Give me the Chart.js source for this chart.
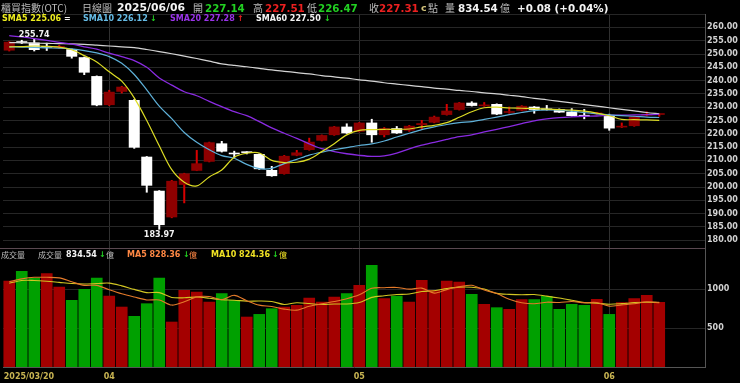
<!DOCTYPE html>
<html><head><meta charset="utf-8">
<script src="https://cdn.jsdelivr.net/npm/chart.js@4/dist/chart.umd.min.js"></script>
<style>
html,body{margin:0;padding:0;background:#000;}
#wrap{position:relative;width:740px;height:383px;overflow:hidden;background:#000;}
#c1{position:absolute;left:0;top:0;}
#c2{position:absolute;left:0;top:249px;}
.t{position:absolute;white-space:nowrap;line-height:1;transform:translateY(-50%);}
.n{font-family:"DejaVu Sans";font-weight:bold;}
.cj{font-family:"Noto Sans CJK TC";}
</style></head>
<body>
<div id="wrap">
<canvas id="c1" width="740" height="249"></canvas>
<canvas id="c2" width="740" height="134"></canvas>
</div>
<script>
// ---------------- data ----------------
const lastDate = '2025/06/06';
const monthTickIndex = [0, 8, 28, 48];
const monthTickLabels = ['2025/03/20', '04', '05', '06'];
const priceTicks = [180,185,190,195,200,205,210,215,220,225,230,235,240,245,250,255,260,265];
const volTicks = [500, 1000];

const openP = [251.3,254.5,254.3,252.6,252.3,251.8,248.8,241.7,230.8,235.8,
 232.7,211.4,198.6,188.6,200.8,206.1,209.5,216.4,212.6,213.0,
 212.4,206.4,204.9,211.8,213.9,217.4,219.5,222.7,220.8,224.2,
 219.5,222.1,221.2,223.3,224.2,227.1,229.0,231.7,230.4,231.2,
 227.9,228.7,230.2,229.3,229.3,228.3,227.1,227.4,227.1,222.4,
 222.9,226.9,227.14];
const highP = [254.8,255.3,255.74,254.2,253.4,252.0,249.0,241.9,236.5,238.0,
 233.0,211.6,198.8,202.6,205.3,213.9,217.0,217.3,213.6,213.4,
 212.6,207.9,212.0,213.9,218.5,219.7,222.9,223.9,224.4,225.6,
 222.5,222.9,223.3,225.2,226.8,231.2,231.9,232.2,231.9,231.4,
 230.2,230.7,230.4,230.8,229.5,229.6,229.3,228.2,227.5,224.2,
 226.6,228.4,227.51];
const lowP = [251.0,253.8,251.0,251.2,252.0,248.3,242.1,230.4,230.5,235.2,
 214.4,197.9,183.97,188.3,193.9,206.0,209.3,213.0,211.0,212.3,
 206.5,203.9,204.7,211.6,213.7,217.2,219.3,220.0,220.6,216.7,
 218.7,220.0,220.8,221.7,224.0,226.9,228.8,230.3,230.2,227.1,
 227.6,228.5,227.6,228.8,227.9,226.5,225.5,227.2,221.2,222.2,
 222.7,226.6,226.47];
const closeP = [254.6,254.2,251.5,252.4,253.0,249.0,243.0,230.7,235.8,237.7,
 214.8,200.5,185.7,202.3,205.1,208.9,216.8,213.3,212.3,212.8,
 206.7,204.1,211.7,213.0,217.0,219.5,222.7,220.2,224.2,219.5,
 222.1,220.2,223.0,224.0,226.4,228.7,231.7,230.5,231.0,227.3,
 228.3,230.5,229.0,228.9,228.0,226.7,226.5,227.8,222.0,222.6,
 226.4,227.23,227.31];
const volume = [1106,1231,1145,1201,1030,859,1000,1145,914,773,
 654,816,1145,581,987,966,837,945,859,645,
 679,752,773,795,889,837,902,945,1051,1308,
 880,914,837,1115,987,1106,1094,936,808,765,
 744,868,868,910,744,808,795,872,679,829,
 880,923,834.54];

const sma5 = [252.7,252.8,253.0,252.9,252.6,251.6,249.4,247.0,243.3,239.8,
 233.5,225.0,215.5,206.5,201.8,200.4,203.8,206.4,211.2,212.7,
 212.8,210.0,209.2,209.3,210.5,213.3,216.3,219.6,221.3,221.6,
 221.7,221.7,221.8,222.6,223.2,224.2,226.2,228.3,229.8,230.0,
 229.7,229.6,229.5,229.3,229.1,228.9,228.5,227.8,226.8,225.4,
 225.3,225.2,225.06];
const sma10 = [252.7,252.6,252.5,252.3,252.2,251.9,251.3,250.4,249.0,246.5,
 242.3,236.5,230.4,225.7,220.5,216.8,214.0,211.8,210.8,208.5,
 206.9,207.0,208.8,210.4,212.0,213.1,214.0,214.8,215.6,216.2,
 217.3,218.8,220.2,221.6,222.6,223.5,224.2,224.6,225.4,226.3,
 227.2,228.0,228.7,229.0,228.9,228.5,228.0,227.5,227.1,226.8,
 226.6,226.3,226.12];
const sma20 = [256.9,256.4,255.8,255.1,254.4,253.7,252.7,251.8,250.3,249.0,
 247.5,245.0,241.0,238.3,235.8,234.3,232.2,230.2,228.3,226.8,
 224.6,222.2,220.2,218.3,216.2,214.4,213.3,212.5,211.9,211.5,
 211.7,212.7,214.3,215.7,216.8,217.9,218.9,219.6,220.7,221.7,
 222.7,223.8,224.9,225.6,226.1,226.4,226.6,226.7,226.9,227.0,
 227.1,227.2,227.28];
const sma60 = [254.3,254.2,254.1,254.0,253.9,253.8,253.6,253.3,253.0,252.7,
 252.4,251.7,250.9,250.1,249.2,248.3,247.3,246.3,245.7,245.2,
 244.6,244.0,243.5,243.0,242.5,241.9,241.4,240.9,240.3,239.8,
 239.2,238.7,238.2,237.7,237.2,236.8,236.3,235.9,235.4,235.0,
 234.5,234.0,233.3,232.8,232.2,231.6,231.0,230.4,229.8,229.2,
 228.6,228.0,227.5];
const volMa5 = [1094,1130,1150,1150,1143,1093,1047,1047,990,938,
 897,860,860,794,837,899,903,863,919,850,
 793,776,742,729,778,809,839,874,925,1009,
 1017,1020,998,1011,947,992,1028,1048,986,942,
 869,824,811,831,827,840,825,826,780,797,
 811,837,828.36];
const volMa10 = [1073,1110,1110,1100,1085,1070,1065,1070,1075,1040,
 995,954,954,892,887,898,882,862,856,844,
 846,840,802,824,814,801,808,808,827,893,
 913,929,936,968,978,1005,1024,1023,999,944,
 931,926,929,909,884,855,825,818,805,812,
 825,831,824.36];
const smaMarks = ['=', '↓', '↑', '↓'];
const volMarks = ['↓', '↓', '↓'];

// ---------------- helpers ----------------
const N = closeP.length;
const idx = [...Array(N).keys()];
const isUp = i => closeP[i] >= openP[i];
const volUp = i => i === 0 ? closeP[0] >= openP[0] : closeP[i] >= closeP[i - 1];
const X_MIN = -0.5, X_MAX = 55.66;
const NUMFONT = 'DejaVu Sans';

function xAxis(h) {
  return {
    type: 'linear', min: X_MIN, max: X_MAX, offset: false,
    grid: { display: true, offset: false, color: '#303030', drawTicks: false },
    border: { display: h > 0, color: '#555555' },
    ticks: { display: false },
    afterBuildTicks: s => { s.ticks = monthTickIndex.slice(1).map(v => ({ value: v })); },
    afterFit: s => { s.height = h; s.paddingLeft = 0; s.paddingRight = 0; }
  };
}
function yAxis(min, max, ticks, cb) {
  return {
    type: 'linear', position: 'right', min: min, max: max,
    afterBuildTicks: s => { s.ticks = ticks.map(v => ({ value: v })); },
    ticks: { color: '#d2d2d2', font: { family: NUMFONT, weight: 'bold', size: 8 }, padding: 2, autoSkip: false, callback: cb },
    grid: { color: '#262626', drawTicks: false },
    border: { display: true, color: '#555555' },
    afterFit: s => { s.width = 35; s.paddingTop = 0; s.paddingBottom = 0; }
  };
}
const lineDs = (data, color, w) => ({
  type: 'line', data: idx.map(i => ({ x: i, y: data[i] })), borderColor: color,
  borderWidth: w, pointRadius: 0, tension: 0.3, order: 0, fill: false
});

// ---------------- price chart ----------------
const priceDeco = {
  id: 'priceDeco',
  afterDatasetsDraw(chart) {
    const { ctx, scales: { x, y } } = chart;
    let hi = 0, lo = 0;
    idx.forEach(i => { if (highP[i] > highP[hi]) hi = i; if (lowP[i] < lowP[lo]) lo = i; });
    ctx.save();
    ctx.font = 'bold 8px "' + NUMFONT + '"';
    ctx.fillStyle = '#f2f2f2';
    ctx.textAlign = 'center';
    ctx.textBaseline = 'alphabetic';
    ctx.fillText(highP[hi].toFixed(2), x.getPixelForValue(hi), y.getPixelForValue(highP[hi]) - 1.8);
    ctx.fillText(lowP[lo].toFixed(2), x.getPixelForValue(lo), y.getPixelForValue(lowP[lo]) + 7.4);
    // panel separator
    ctx.strokeStyle = '#5a4850';
    ctx.lineWidth = 1;
    ctx.beginPath();
    ctx.moveTo(0, chart.chartArea.bottom + 0.5);
    ctx.lineTo(chart.chartArea.right, chart.chartArea.bottom + 0.5);
    ctx.stroke();
    ctx.restore();
  }
};

new Chart(document.getElementById('c1'), {
  type: 'bar',
  data: {
    datasets: [
      lineDs(sma5, '#dcdc24', 1.2),
      lineDs(sma10, '#5eb0d8', 1.2),
      lineDs(sma20, '#8a2be2', 1.3),
      lineDs(sma60, '#d4d4d4', 1.2),
      {
        type: 'bar', order: 1, grouped: false, barPercentage: 0.88, categoryPercentage: 1,
        minBarLength: 1.6,
        data: idx.map(i => ({ x: i, y: [openP[i], closeP[i]] })),
        backgroundColor: idx.map(i => isUp(i) ? '#8e0000' : '#ffffff'),
        borderWidth: 0
      },
      {
        type: 'bar', order: 2, grouped: false, barPercentage: 0.16, categoryPercentage: 1,
        data: idx.map(i => ({ x: i, y: [lowP[i], highP[i]] })),
        backgroundColor: idx.map(i => isUp(i) ? '#d80000' : '#ffffff'),
        borderWidth: 0
      }
    ]
  },
  options: {
    responsive: false, animation: false, devicePixelRatio: 1,
    layout: { padding: { left: 3, top: 14.1, right: 0, bottom: 1 } },
    plugins: { legend: { display: false }, tooltip: { enabled: false } },
    scales: {
      x: xAxis(0),
      y: yAxis(177.07, 265, priceTicks, v => v <= 260 ? Number(v).toFixed(2) : '')
    }
  },
  plugins: [priceDeco]
});

// ---------------- volume chart ----------------
const volDeco = {
  id: 'volDeco',
  afterDraw(chart) {
    const { ctx, scales: { x }, chartArea } = chart;
    ctx.save();
    ctx.font = 'bold 8px "' + NUMFONT + '"';
    ctx.fillStyle = '#c8b452';
    ctx.textBaseline = 'middle';
    monthTickIndex.forEach((v, k) => {
      const px = x.getPixelForValue(v);
      if (k === 0) { ctx.textAlign = 'left'; ctx.fillText(monthTickLabels[k], px - 5.5, chartArea.bottom + 10); }
      else { ctx.textAlign = 'center'; ctx.fillText(monthTickLabels[k], px, chartArea.bottom + 10); }
    });
    ctx.restore();
  }
};

new Chart(document.getElementById('c2'), {
  type: 'bar',
  data: {
    datasets: [
      lineDs(volMa5, '#e47a2a', 1.1),
      lineDs(volMa10, '#d2c622', 1.1),
      {
        type: 'bar', order: 1, grouped: false, barPercentage: 0.93, categoryPercentage: 1,
        data: idx.map(i => ({ x: i, y: volume[i] })),
        backgroundColor: idx.map(i => volUp(i) ? '#a40000' : '#00a000'),
        borderWidth: 0
      }
    ]
  },
  options: {
    responsive: false, animation: false, devicePixelRatio: 1,
    layout: { padding: { left: 3, top: 0, right: 0, bottom: 0 } },
    plugins: { legend: { display: false }, tooltip: { enabled: false } },
    scales: {
      x: xAxis(16),
      y: yAxis(0, 1513, volTicks, v => String(v))
    }
  },
  plugins: [volDeco]
});

// ---------------- header texts ----------------
const wrap = document.getElementById('wrap');
function addText(x, y, text, cls, color, size) {
  const d = document.createElement('div');
  d.className = 't ' + cls;
  d.style.left = x + 'px';
  d.style.top = y + 'px';
  d.style.color = color;
  d.style.fontSize = size + 'px';
  d.textContent = text;
  wrap.appendChild(d);
}
const L = N - 1;
const GRAY = '#bcbcbc', GREEN = '#22d022', RED = '#ec2020', WHITE = '#f4f4f4';
const chg = closeP[L] - closeP[L - 1];
const pct = chg / closeP[L - 1] * 100;
const sgn = v => (v >= 0 ? '+' : '-') + Math.abs(v).toFixed(2);
const HS = 10.3;

let Y1 = 7.5;
addText(1, Y1, '櫃買指數(OTC)', 'cj', GRAY, 10);
addText(82, Y1, '日線圖', 'cj', GRAY, 10);
addText(117, Y1, lastDate, 'n', WHITE, 10.8);
addText(193, Y1, '開', 'cj', GRAY, 10);
addText(205, Y1, openP[L].toFixed(2), 'n', GREEN, HS);
addText(253, Y1, '高', 'cj', GRAY, 10);
addText(265, Y1, highP[L].toFixed(2), 'n', RED, HS);
addText(307, Y1, '低', 'cj', GRAY, 10);
addText(318, Y1, lowP[L].toFixed(2), 'n', GREEN, HS);
addText(369, Y1, '收', 'cj', GRAY, 10);
addText(379, Y1, closeP[L].toFixed(2), 'n', RED, HS);
addText(421, Y1, 'c', 'n', '#d2c27a', 9.5);
addText(428, Y1, '點', 'cj', GRAY, 10);
addText(445, Y1, '量', 'cj', GRAY, 10);
addText(458, Y1, volume[L].toFixed(2), 'n', WHITE, HS);
addText(500, Y1, '億', 'cj', GRAY, 10);
addText(517, Y1, sgn(chg) + ' (' + sgn(pct) + '%)', 'n', WHITE, HS);

let Y2 = 19.2;
addText(2, Y2, 'SMA5 ' + sma5[L].toFixed(2), 'n', '#ecec1e', 8);
addText(64, Y2, smaMarks[0], 'n', WHITE, 8);
addText(83, Y2, 'SMA10 ' + sma10[L].toFixed(2), 'n', '#66bce6', 8);
addText(150, Y2, smaMarks[1], 'n', GREEN, 8);
addText(170, Y2, 'SMA20 ' + sma20[L].toFixed(2), 'n', '#9a34e8', 8);
addText(237, Y2, smaMarks[2], 'n', RED, 8);
addText(256, Y2, 'SMA60 ' + sma60[L].toFixed(2), 'n', WHITE, 8);
addText(324, Y2, smaMarks[3], 'n', GREEN, 8);

let Y3 = 255;
addText(1, Y3, '成交量', 'cj', GRAY, 8);
addText(38, Y3, '成交量', 'cj', GRAY, 8);
addText(66, Y3, volume[L].toFixed(2), 'n', WHITE, 8);
addText(99, Y3, volMarks[0], 'n', GREEN, 8);
addText(106, Y3, '億', 'cj', GRAY, 8);
addText(127, Y3, 'MA5 ' + volMa5[L].toFixed(2), 'n', '#ff8844', 8);
addText(183, Y3, volMarks[1], 'n', GREEN, 8);
addText(189, Y3, '億', 'cj', '#ff8844', 8);
addText(211, Y3, 'MA10 ' + volMa10[L].toFixed(2), 'n', '#f0e224', 8);
addText(272, Y3, volMarks[2], 'n', GREEN, 8);
addText(279, Y3, '億', 'cj', '#f0e224', 8);
</script>
</body></html>
